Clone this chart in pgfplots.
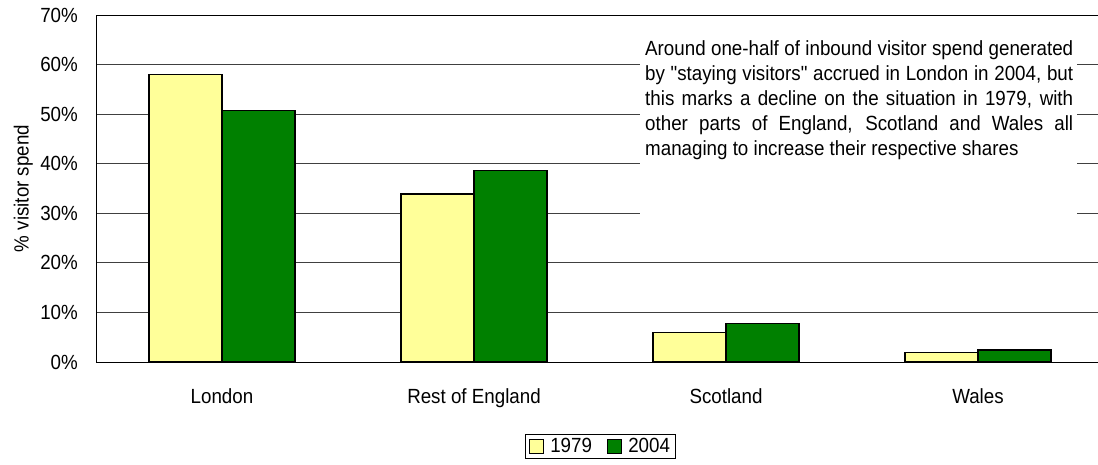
\documentclass[border=0pt]{standalone}
\usepackage{fontspec}
\setmainfont{Liberation Sans}[FakeStretch=0.915, Ligatures=TeXOff]
\usepackage{pgfplots}
\pgfplotsset{compat=1.18}
\definecolor{lightyel}{HTML}{FFFF99}
\definecolor{dgreen}{HTML}{008000}
\pgfplotsset{/pgfplots/ybar legend/.style={/pgfplots/legend image code/.code={\draw[##1,/tikz/.cd,line width=1.2bp] (0bp,-7bp) rectangle (14bp,7bp); \path (18bp,0bp);}}}
\begin{document}
\begin{tikzpicture}[font=\fontsize{20.5bp}{25bp}\selectfont]
\useasboundingbox (0,0) rectangle (1098bp,465bp);
\begin{axis}[
 at={(96bp,103bp)}, anchor=south west,
 scale only axis, width=1008bp, height=347bp,
 ybar=0pt, bar width=73bp,
 xmin=-0.5, xmax=3.5, ymin=0, ymax=70,
 xtick={0,1,2,3}, xticklabels={London, Rest of England, Scotland, Wales},
 ytick={0,10,...,70},
 yticklabel={\pgfmathprintnumber{\tick}\%},
 /pgf/number format/assume math mode=true,
 major tick length=0pt,
 ymajorgrids, grid style={black!75, line width=1bp},
 axis line style={black, line width=1bp},
 xticklabel style={inner sep=0pt, yshift=-26bp},
 yticklabel style={inner sep=0pt, xshift=-18bp},
 ylabel={\% visitor spend},
 ylabel style={at={(axis description cs:-0.0625,0.5)}, anchor=south, inner sep=0pt},
 legend style={at={(axis description cs:0.5005,-0.2435)}, anchor=center, draw=black, line width=1bp, legend columns=2, inner xsep=4bp, inner ysep=2bp, /tikz/every even column/.append style={column sep=13bp}},
]
\addplot[fill=lightyel, draw=black, line width=1.3bp] coordinates {(0,58.05) (1,33.9) (2,6.0) (3,1.95)};
\addplot[fill=dgreen, draw=black, line width=1.3bp] coordinates {(0,50.8) (1,38.6) (2,7.8) (3,2.4)};
\legend{1979,2004}
\end{axis}
\fill[white] (640bp,230bp) rectangle (1077bp,440bp);
\node[anchor=north west, inner sep=0pt, text width=428bp, align=justify] at (645bp,425bp) {\hyphenpenalty=10000\exhyphenpenalty=10000
Around one-half of inbound visitor spend generated\linebreak
by "staying visitors" accrued in London in 2004, but\linebreak
this marks a decline on the situation in 1979, with\linebreak
other parts of England, Scotland and Wales all\linebreak
managing to increase their respective shares};
\end{tikzpicture}
\end{document}
